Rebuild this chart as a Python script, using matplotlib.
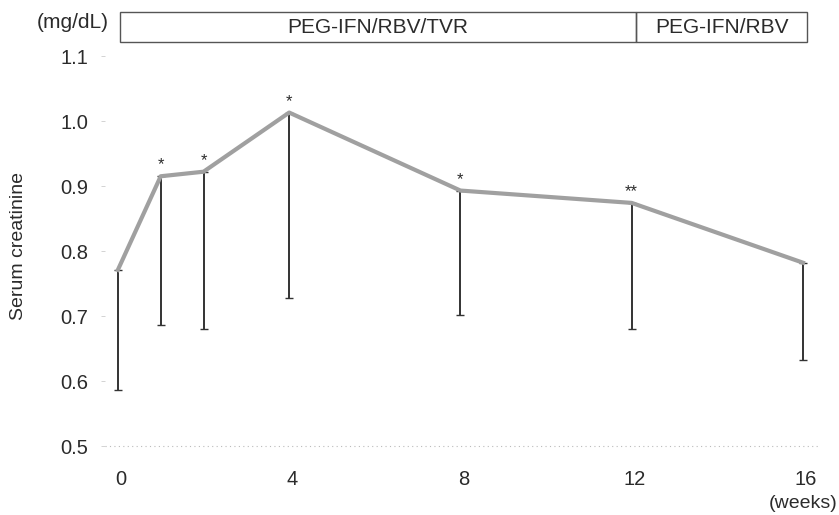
import matplotlib
matplotlib.use("Agg")
import matplotlib.pyplot as plt
from matplotlib.patches import Rectangle
from matplotlib.transforms import ScaledTranslation

plt.rcParams['font.family'] = ['Liberation Sans', 'DejaVu Sans']

# Serum creatinine over treatment (mean with lower SD bar)
weeks = [0, 1, 2, 4, 8, 12, 16]
mean_cr = [0.771, 0.915, 0.922, 1.013, 0.893, 0.874, 0.782]
lower_cr = [0.586, 0.686, 0.680, 0.728, 0.701, 0.680, 0.632]
signif = ["", "*", "*", "*", "*", "**", ""]

x_ticks = [0, 4, 8, 12, 16]
y_ticks = [0.5, 0.6, 0.7, 0.8, 0.9, 1.0, 1.1]

phases = ["PEG-IFN/RBV/TVR", "PEG-IFN/RBV"]
phase_bounds = [0.05, 12.1, 16.1]

text_col = "#2b2b2b"

fig = plt.figure(figsize=(8.39, 5.15), dpi=100)
ax = fig.add_axes([0.1252, 0.1087, 0.8523, 0.8078])
ax.set_xlim(-0.3, 16.4)
ax.set_ylim(0.48, 1.12)

# lower error bars
err_lo = [m - l for m, l in zip(mean_cr, lower_cr)]
ax.errorbar(weeks, mean_cr, yerr=[err_lo, [0] * len(weeks)], fmt="none",
            ecolor="#333333", elinewidth=1.4, capsize=3, capthick=1.0, zorder=2)
ax.plot(weeks, mean_cr, color="#a0a0a0", lw=3.0, solid_joinstyle="round", zorder=3)

for w, m, s in zip(weeks, mean_cr, signif):
    if s:
        ax.text(w, m + 0.006, s, ha="center", va="bottom", fontsize=12, color=text_col)

# faint dotted baseline
ax.axhline(0.5, color="#bbbbbb", lw=0.8, ls=(0, (1, 3)), zorder=1)

for sp in ax.spines.values():
    sp.set_visible(False)

ax.set_xticks(x_ticks)
ax.set_xticklabels([str(t) for t in x_ticks])
ax.set_yticks(y_ticks)
ax.set_yticklabels([f"{t:.1f}" for t in y_ticks])
ax.tick_params(axis="x", length=0, pad=8, labelsize=14.5, labelcolor=text_col)
ax.tick_params(axis="y", length=3, color="#cccccc", width=0.6, pad=9,
               labelsize=14.5, labelcolor=text_col)
shift = ScaledTranslation(3 / 100, 0, fig.dpi_scale_trans)
for lab in ax.get_xticklabels():
    lab.set_transform(lab.get_transform() + shift)

fig.text(0.022, 0.522, "Serum creatinine", rotation=90, ha="center", va="center",
         fontsize=14, color=text_col)
fig.text(0.998, 0.023, "(weeks)", ha="right", va="center", fontsize=14, color=text_col)
fig.text(0.130, 0.957, "(mg/dL)", ha="right", va="center", fontsize=15, color=text_col)

# treatment phase banner
y0, y1 = 1.1215, 1.1677
for name, a, b in zip(phases, phase_bounds[:-1], phase_bounds[1:]):
    ax.add_patch(Rectangle((a, y0), b - a, y1 - y0, fill=False, ec="#555555",
                           lw=1.0, clip_on=False))
    ax.text((a + b) / 2, (y0 + y1) / 2, name, ha="center", va="center",
            fontsize=15, color=text_col, clip_on=False)

fig.savefig("out.png", dpi=100, facecolor="white")
